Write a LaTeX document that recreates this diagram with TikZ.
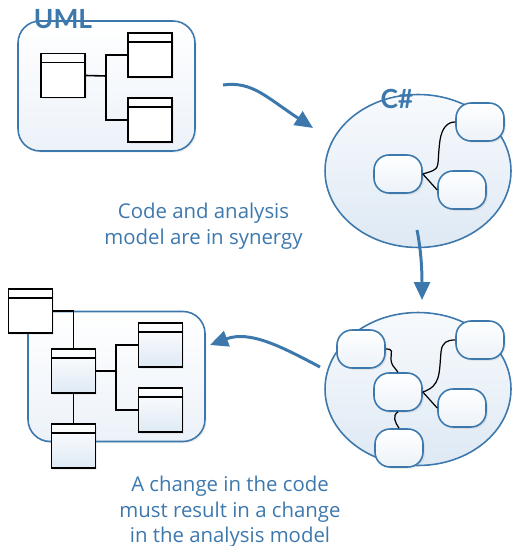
\documentclass[tikz,border=0pt]{standalone}
\usepackage{fontspec}
\setmainfont{Lato}
\newfontfamily\captionfont{Open Sans}
\usepackage{tikz}
\usetikzlibrary{shapes.geometric,arrows.meta,shadows}

\definecolor{umlblue}{RGB}{61,120,173}
\definecolor{paleblue}{RGB}{222,233,244}
\definecolor{softblue}{RGB}{236,242,249}

\tikzset{
  pane/.style={draw=umlblue,line width=0.9pt,rounded corners=0.44cm,
    top color=white,bottom color=softblue,minimum width=3.54cm,minimum height=2.6cm,
    drop shadow={opacity=0.12,shadow xshift=1pt,shadow yshift=-1pt}},
  cls/.style={draw=black,line width=1.1pt,top color=white,bottom color=#1,
    minimum width=0.88cm,minimum height=0.88cm,inner sep=0pt,
    drop shadow={opacity=0.12,shadow xshift=1pt,shadow yshift=-1pt},
    path picture={\draw[line width=1.1pt]
      ([yshift=-0.18cm]path picture bounding box.north west) --
      ([yshift=-0.18cm]path picture bounding box.north east);}},
  cls/.default=white,
  orb/.style={ellipse,draw=umlblue,line width=0.9pt,top color=white!60!softblue,
    bottom color=paleblue,minimum width=3.72cm,minimum height=3.06cm,inner sep=0pt},
  blob/.style={draw=umlblue,line width=0.9pt,rounded corners=0.3cm,top color=white,
    bottom color=softblue,minimum width=0.96cm,minimum height=0.76cm,inner sep=0pt,
    drop shadow={opacity=0.15,shadow xshift=1pt,shadow yshift=-1pt}},
  flow/.style={draw=umlblue,line width=1.7pt,
    -{Triangle[length=0.36cm,width=0.32cm]}},
  tag/.style={text=umlblue,font=\bfseries\fontsize{15}{15}\selectfont,inner sep=0pt},
  note/.style={text=umlblue,align=center,font=\captionfont\fontsize{11.6}{14.5}\selectfont}
}

\begin{document}
\begin{tikzpicture}[x=0.02cm,y=-0.02cm]
  \useasboundingbox (0,0) rectangle (511,546);

  % analysis model, before
  \node[pane] (uml) at (106.5,86) {};
  \foreach \n/\x/\y in {l1/63/75.5,r1/150/55,r2/150/120}
    \node[cls] (\n) at (\x,\y) {};
  \coordinate (j1) at (106,76);
  \draw[line width=0.9pt] (l1.east) -- (j1);
  \draw[line width=0.9pt] (r1.west) -| (j1) |- (r2.west);
  \node[tag] (umltag) at (63,19) {UML};

  % code
  \node[orb] (code) at (418,171) {};
  \node[tag] (cstag) at (397,99) {C\#};
  \node[blob] (c1) at (398,174) {};
  \node[blob] (c2) at (480,122) {};
  \node[blob] (c3) at (462,190) {};
  \draw[line width=0.7pt] (c1.east) .. controls +(20,-6) and +(-4,30) .. (440,140)
    .. controls +(2,-12) and +(-8,0) .. (c2.west);
  \draw[line width=0.7pt] (c1.east) -- (c3.west);

  % code, changed
  \node[orb] (newcode) at (418,389) {};
  \node[blob] (n1) at (361,349) {};
  \node[blob] (n2) at (480,340) {};
  \node[blob] (n3) at (398,392) {};
  \node[blob] (n4) at (462,408) {};
  \node[blob] (n5) at (399,448) {};
  \draw[line width=0.7pt] (n1.east) .. controls +(8,0) and +(0,-6) .. (391,358)
    .. controls +(0,8) and +(-4,-6) .. (n3.north);
  \draw[line width=0.7pt] (n3.east) .. controls +(18,-6) and +(-2,22) .. (441,352)
    .. controls +(1,-10) and +(-8,0) .. (n2.west);
  \draw[line width=0.7pt] (n3.east) -- (n4.west);
  \draw[line width=0.7pt] (n3.south) .. controls +(-6,4) and +(-4,-6) .. (n5.north);

  % analysis model, after
  \node[pane] (model) at (116.5,376.5) {};
  \foreach \n/\x/\y/\c in {a/30.5/311/white,b/73.5/371/paleblue,c/73.5/446/paleblue,
      d/160.5/345/paleblue,e/160.5/410/paleblue}
    \node[cls=\c] (\n) at (\x,\y) {};
  \coordinate (j2) at (116,371);
  \draw[line width=0.9pt] (a.east) -| (b.north);
  \draw[line width=0.9pt] (b.south) -- (c.north);
  \draw[line width=0.9pt] (b.east) -- (j2);
  \draw[line width=0.9pt] (d.west) -| (j2) |- (e.west);

  % big arrows
  \coordinate (s1) at (223,85);
  \coordinate (t1) at (313,128);
  \draw[flow] (s1) .. controls (252,81) and (266,97) .. (t1);
  \coordinate (s2) at (417,230);
  \coordinate (t2) at (422,300);
  \draw[flow] (s2) .. controls (421,250) and (422,270) .. (t2);
  \coordinate (s3) at (320,367);
  \coordinate (t3) at (210,345);
  \draw[flow] (s3) .. controls (282,347) and (250,330) .. (t3);

  % captions
  \node[note] (synergy) at (203.5,226) {Code and analysis\\model are in synergy};
  \node[note] (change) at (230,512) {A change in the code\\must result in a change\\in the analysis model};
\end{tikzpicture}
\end{document}
